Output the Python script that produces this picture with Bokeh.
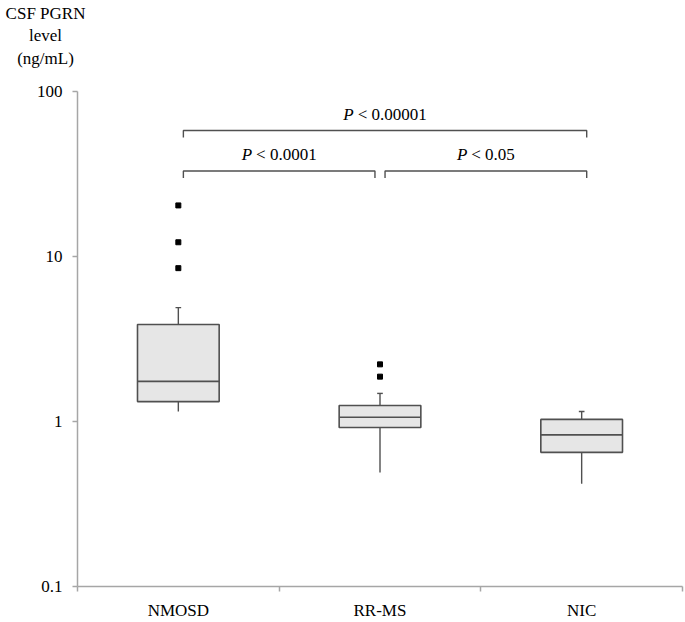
from bokeh.plotting import figure
from bokeh.models import Range1d, FixedTicker, Title, CustomJSTickFormatter
from bokeh.core.properties import value
from bokeh.embed import file_html
from bokeh.resources import INLINE

# ---------------- data ----------------
categories = ["NMOSD", "RR-MS", "NIC"]
upper_whisker = [4.9, 1.48, 1.15]
q3 = [3.87, 1.25, 1.03]
median = [1.75, 1.06, 0.83]
q1 = [1.32, 0.92, 0.65]
lower_whisker = [1.15, 0.49, 0.42]
outlier_group = ["NMOSD", "NMOSD", "NMOSD", "RR-MS", "RR-MS"]
outlier_values = [20.4, 12.2, 8.5, 2.22, 1.87]

comparison_from = ["NMOSD", "NMOSD", "RR-MS"]
comparison_to = ["NIC", "RR-MS", "NIC"]
p_value_text = ["< 0.00001", "< 0.0001", "< 0.05"]
bracket_level = [58.0, 33.0, 33.0]

y_ticks = [0.1, 1, 10, 100]
y_title_lines = ["CSF PGRN", "level", "(ng/mL)"]

# ---------------- style ----------------
FONT = "Liberation Serif"
FS = 17
BOX_FILL = "#e6e6e6"
DARK = "#505050"
AXIS = "#a6a6a6"
BOX_W = 0.405
CAP_W = 0.028

# approximate glyph widths (Times metrics, em)
cw = {"<": 0.564, " ": 0.25, ".": 0.25, "C": 0.667, "S": 0.556, "F": 0.556, "P": 0.556,
      "G": 0.722, "R": 0.667, "N": 0.722, "l": 0.278, "e": 0.444, "v": 0.5, "(": 0.333,
      ")": 0.333, "n": 0.5, "g": 0.5, "/": 0.278, "m": 0.778, "L": 0.611}
def width_em(s):
    return sum(cw.get(ch, 0.5) for ch in s)

centers = {c: i + 0.5 for i, c in enumerate(categories)}
xc = [centers[c] for c in categories]

p = figure(width=685, height=622, output_backend="svg", toolbar_location=None,
           y_axis_type="log", x_range=Range1d(0, 3), y_range=Range1d(0.1, 100),
           min_border_left=77, min_border_right=3, min_border_top=91, min_border_bottom=36)
p.outline_line_color = None
p.xgrid.visible = False
p.ygrid.visible = False
p.background_fill_color = "white"
p.border_fill_color = "white"

# whiskers
p.segment(x0=xc, x1=xc, y0=q3, y1=upper_whisker, line_color=DARK, line_width=1.4)
p.segment(x0=xc, x1=xc, y0=q1, y1=lower_whisker, line_color=DARK, line_width=1.4)
p.segment(x0=[x - CAP_W / 2 for x in xc], x1=[x + CAP_W / 2 for x in xc],
          y0=upper_whisker, y1=upper_whisker, line_color=DARK, line_width=1.4)

# boxes
p.vbar(x=xc, width=BOX_W, top=q3, bottom=q1, fill_color=BOX_FILL,
       line_color=DARK, line_width=1.6)
p.segment(x0=[x - BOX_W / 2 for x in xc], x1=[x + BOX_W / 2 for x in xc],
          y0=median, y1=median, line_color=DARK, line_width=1.6)

# outliers
p.scatter(x=[centers[g] for g in outlier_group], y=outlier_values, marker="square",
          size=5, fill_color="black", line_color="black")

# significance brackets
TICK_FACTOR = 10 ** (7 / 165)
starts_at = {(lv, a) for a, lv in zip(comparison_from, bracket_level)}
bx0, bx1, by = [], [], []
for a, b, lv in zip(comparison_from, comparison_to, bracket_level):
    left = centers[a] + 0.025
    right = centers[b] - 0.025 if (lv, b) in starts_at else centers[b] + 0.025
    bx0.append(left)
    bx1.append(right)
    by.append(lv)
    p.line(x=[left, left, right, right], y=[lv / TICK_FACTOR, lv, lv, lv / TICK_FACTOR],
           line_color=DARK, line_width=1.4)

P_W = 0.611 * FS
GAP = 4.0
for x0, x1, lv, txt in zip(bx0, bx1, by, p_value_text):
    mid = (x0 + x1) / 2
    W = P_W + GAP + width_em(txt) * FS
    p.text(x=[mid], y=[lv], text=["P"], x_offset=-W / 2, y_offset=-16,
           text_align="left", text_baseline="middle", text_font=value(FONT),
           text_font_size=f"{FS}px", text_font_style="italic", text_color="black")
    p.text(x=[mid], y=[lv], text=[txt], x_offset=-W / 2 + P_W + GAP, y_offset=-16,
           text_align="left", text_baseline="middle", text_font=value(FONT),
           text_font_size=f"{FS}px", text_color="black")

# axes
ya = p.yaxis[0]
ya.ticker = FixedTicker(ticks=y_ticks, minor_ticks=[])
ya.formatter = CustomJSTickFormatter(code="return String(Number(tick.toPrecision(6)));")
ya.axis_line_color = AXIS
ya.axis_line_width = 1.5
ya.major_tick_line_color = AXIS
ya.major_tick_line_width = 1.5
ya.major_tick_out = 5
ya.major_tick_in = 0
ya.minor_tick_line_color = None
ya.major_label_standoff = 10
ya.major_label_text_font = FONT
ya.major_label_text_font_size = f"{FS}px"
ya.major_label_text_color = "black"

xa = p.xaxis[0]
xa.ticker = FixedTicker(ticks=xc, minor_ticks=[0, 1, 2, 3])
xa.formatter = CustomJSTickFormatter(args=dict(labels=categories),
                                     code="return labels[Math.floor(tick)];")
xa.axis_line_color = AXIS
xa.axis_line_width = 1.5
xa.major_tick_line_color = None
xa.major_tick_out = 5
xa.major_tick_in = 0
xa.minor_tick_line_color = AXIS
xa.minor_tick_line_width = 1.5
xa.minor_tick_out = 5
xa.minor_tick_in = 0
xa.major_label_standoff = 9
xa.major_label_text_font = FONT
xa.major_label_text_font_size = f"{FS}px"
xa.major_label_text_color = "black"

# spacer between the y-axis title and the frame (closest panel above the frame)
p.add_layout(Title(text="\u00a0", standoff=2, text_font=FONT,
                   text_font_size=f"{FS}px"), "above")

# y-axis title: three stacked titles above the frame, centred at x = frame_left - 32
TITLE_CX = -32
title_standoffs = {"(ng/mL)": 2, "level": 2, "CSF PGRN": 0}
for line in reversed(y_title_lines):
    w = width_em(line) * FS
    p.add_layout(Title(text=line, align="left", offset=TITLE_CX - w / 2,
                       standoff=title_standoffs[line], text_font=FONT,
                       text_font_size=f"{FS}px", text_font_style="normal",
                       text_color="black"), "above")

open("out.html", "w").write(file_html(p, INLINE))
